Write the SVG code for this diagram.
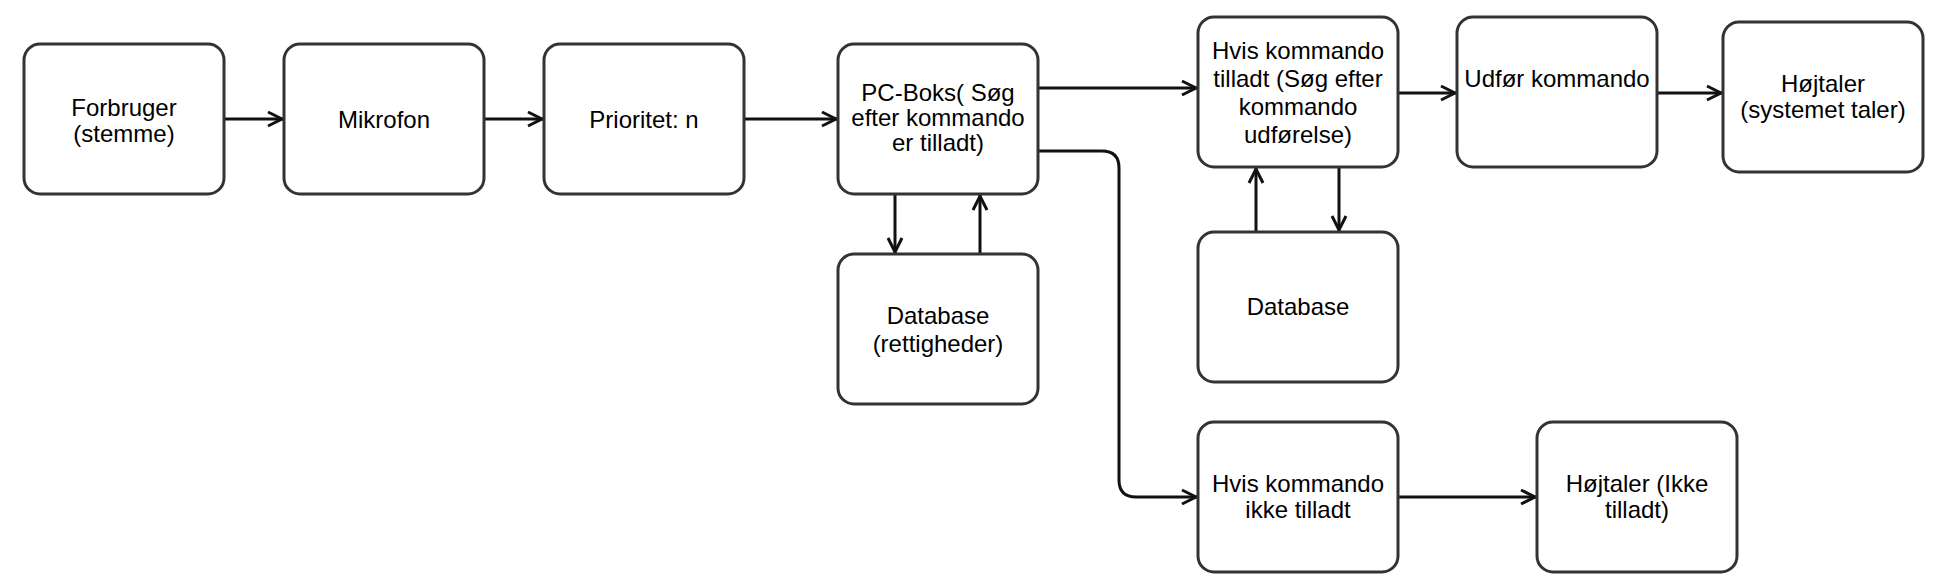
<svg xmlns="http://www.w3.org/2000/svg" width="1940" height="584" viewBox="0 0 1940 584">
<style>
.box{fill:#fff;stroke:#333;stroke-width:3}
.t{font-family:"Liberation Sans",Arial,sans-serif;font-size:24px;fill:#000;text-anchor:middle}
.c{fill:none;stroke:#111;stroke-width:3;marker-end:url(#arr)}
</style>
<defs>
<marker id="arr" markerUnits="userSpaceOnUse" markerWidth="24" markerHeight="24" viewBox="-20 -12 24 24" refX="0" refY="0" orient="auto">
<path d="M-15,-7 L-1,0 L-15,7" fill="none" stroke="#111" stroke-width="3" stroke-linejoin="miter"/>
</marker>
</defs>
<rect width="1940" height="584" fill="#fff"/>
<g id="connectors">
<path class="c" d="M224,119 H283"/>
<path class="c" d="M484,119 H543"/>
<path class="c" d="M744,119 H837"/>
<path class="c" d="M1038,88 H1197"/>
<path class="c" d="M1038,151 H1102 Q1119,151 1119,168 V480 Q1119,497 1136,497 H1197"/>
<path class="c" d="M1398,497 H1536"/>
<path class="c" d="M895,194 V253"/>
<path class="c" d="M980,254 V195"/>
<path class="c" d="M1398,93 H1456"/>
<path class="c" d="M1657,93 H1722"/>
<path class="c" d="M1256,232 V168"/>
<path class="c" d="M1339,167 V231"/>
</g>
<g id="n1"><rect class="box" x="24" y="44" width="200" height="150" rx="16"/><text class="t" x="124" y="116">Forbruger</text><text class="t" x="124" y="142">(stemme)</text></g>
<g id="n2"><rect class="box" x="284" y="44" width="200" height="150" rx="16"/><text class="t" x="384" y="128">Mikrofon</text></g>
<g id="n3"><rect class="box" x="544" y="44" width="200" height="150" rx="16"/><text class="t" x="644" y="128">Prioritet: n</text></g>
<g id="n4"><rect class="box" x="838" y="44" width="200" height="150" rx="16"/><text class="t" x="938" y="101">PC-Boks( Søg</text><text class="t" x="938" y="126">efter kommando</text><text class="t" x="938" y="151">er tilladt)</text></g>
<g id="n5"><rect class="box" x="838" y="254" width="200" height="150" rx="16"/><text class="t" x="938" y="324">Database</text><text class="t" x="938" y="352">(rettigheder)</text></g>
<g id="n6"><rect class="box" x="1198" y="17" width="200" height="150" rx="16"/><text class="t" x="1298" y="59">Hvis kommando</text><text class="t" x="1298" y="87">tilladt (Søg efter</text><text class="t" x="1298" y="115">kommando</text><text class="t" x="1298" y="143">udførelse)</text></g>
<g id="n7"><rect class="box" x="1457" y="17" width="200" height="150" rx="16"/><text class="t" x="1557" y="87">Udfør kommando</text></g>
<g id="n8"><rect class="box" x="1723" y="22" width="200" height="150" rx="16"/><text class="t" x="1823" y="92">Højtaler</text><text class="t" x="1823" y="118">(systemet taler)</text></g>
<g id="n9"><rect class="box" x="1198" y="232" width="200" height="150" rx="16"/><text class="t" x="1298" y="315">Database</text></g>
<g id="n10"><rect class="box" x="1198" y="422" width="200" height="150" rx="16"/><text class="t" x="1298" y="492">Hvis kommando</text><text class="t" x="1298" y="518">ikke tilladt</text></g>
<g id="n11"><rect class="box" x="1537" y="422" width="200" height="150" rx="16"/><text class="t" x="1637" y="492">Højtaler (Ikke</text><text class="t" x="1637" y="518">tilladt)</text></g>
</svg>
